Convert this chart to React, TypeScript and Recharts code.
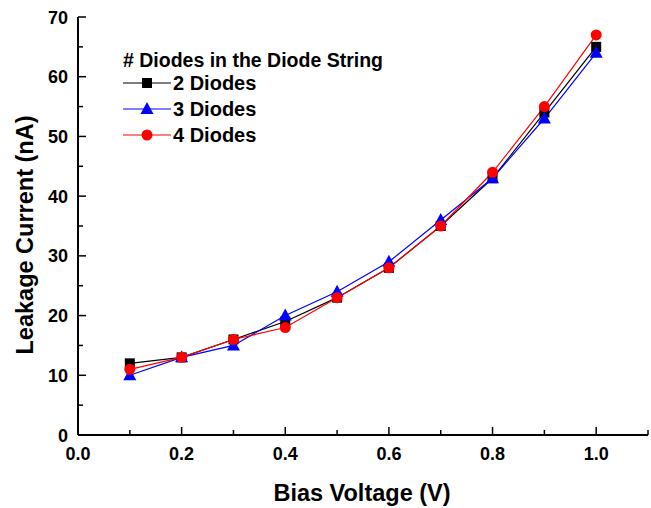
import React from 'react';
import { LineChart, Line, XAxis, YAxis, Legend } from 'recharts';

const voltages = [0.1, 0.2, 0.3, 0.4, 0.5, 0.6, 0.7, 0.8, 0.9, 1.0];
const diodes2 = [12, 13, 16, 19, 23, 28, 35, 43, 54, 65];
const diodes3 = [10, 13, 15, 20, 24, 29, 36, 43, 53, 64];
const diodes4 = [11, 13, 16, 18, 23, 28, 35, 44, 55, 67];
const xTicks = [0, 0.1, 0.2, 0.3, 0.4, 0.5, 0.6, 0.7, 0.8, 0.9, 1.0, 1.1];
const yTicks = [0, 5, 10, 15, 20, 25, 30, 35, 40, 45, 50, 55, 60, 65, 70];
const legendTitle = '# Diodes in the Diode String';
const seriesNames = ['2 Diodes', '3 Diodes', '4 Diodes'];

const data = voltages.map((v, i) => ({ v, d2: diodes2[i], d3: diodes3[i], d4: diodes4[i] }));

const FONT = 'Liberation Sans, Arial, sans-serif';
const colors = ['#000000', '#0000ff', '#ff0000'];

const Square = (props: any) => {
  const { cx, cy } = props;
  if (cx == null || cy == null) return null;
  return <rect x={cx - 5} y={cy - 5} width={10} height={10} fill={colors[0]} />;
};
const Triangle = (props: any) => {
  const { cx, cy } = props;
  if (cx == null || cy == null) return null;
  return <polygon points={`${cx},${cy - 7} ${cx - 6.5},${cy + 5} ${cx + 6.5},${cy + 5}`} fill={colors[1]} />;
};
const Circle = (props: any) => {
  const { cx, cy } = props;
  if (cx == null || cy == null) return null;
  return <circle cx={cx} cy={cy} r={5.5} fill={colors[2]} />;
};

const isMajorX = (v: number) => Math.round(v * 10) % 2 === 0;
const isMajorY = (v: number) => Math.round(v) % 10 === 0;

const XTickBottom = (props: any) => {
  const { x, y, payload } = props;
  const v = payload.value;
  const major = isMajorX(v);
  return (
    <g>
      <line x1={x} x2={x} y1={y} y2={y - (major ? 8 : 5)} stroke="#000" strokeWidth={1.5} />
      {major && v <= 1.0001 && (
        <text x={x} y={y + 25} textAnchor="middle" fontFamily={FONT} fontWeight="bold" fontSize={18} fill="#000">
          {v.toFixed(1)}
        </text>
      )}
    </g>
  );
};
const XTickTop = (props: any) => {
  const { x, y, payload } = props;
  const major = isMajorX(payload.value);
  return <line x1={x} x2={x} y1={y} y2={y + (major ? 8 : 5)} stroke="#000" strokeWidth={1.5} />;
};
const YTickLeft = (props: any) => {
  const { x, y, payload } = props;
  const v = payload.value;
  const major = isMajorY(v);
  return (
    <g>
      <line x1={x} x2={x + (major ? 8 : 5)} y1={y} y2={y} stroke="#000" strokeWidth={1.5} />
      {major && (
        <text x={x - 10} y={y + 6.5} textAnchor="end" fontFamily={FONT} fontWeight="bold" fontSize={18} fill="#000">
          {v}
        </text>
      )}
    </g>
  );
};
const YTickRight = (props: any) => {
  const { x, y, payload } = props;
  const major = isMajorY(payload.value);
  return <line x1={x} x2={x - (major ? 8 : 5)} y1={y} y2={y} stroke="#000" strokeWidth={1.5} />;
};

const markers = [Square, Triangle, Circle];

const LegendContent = () => (
  <svg width={300} height={110} style={{ overflow: 'visible', display: 'block' }}>
    <text x={0} y={27} fontFamily={FONT} fontWeight="bold" fontSize={19.5} fill="#000">
      {legendTitle}
    </text>
    {seriesNames.map((name, i) => {
      const cy = 43 + i * 26;
      const M = markers[i];
      return (
        <g key={name}>
          <line x1={0} x2={48} y1={cy} y2={cy} stroke={colors[i]} strokeWidth={1.2} />
          <M cx={24} cy={cy} />
          <text x={50} y={cy + 7} fontFamily={FONT} fontWeight="bold" fontSize={20} fill="#000">
            {name}
          </text>
        </g>
      );
    })}
  </svg>
);

export default function App() {
  return (
    <div style={{ position: 'absolute', left: 0, top: 0, width: 651, height: 508, background: '#fff' }}>
      <LineChart width={651} height={508} data={data} margin={{ top: 17, right: 3, left: 0, bottom: 0 }}>
        <XAxis
          dataKey="v"
          type="number"
          domain={[0, 1.1]}
          ticks={xTicks}
          interval={0}
          tickSize={0}
          tickMargin={0}
          tick={<XTickBottom />}
          height={73}
          axisLine={{ stroke: '#000', strokeWidth: 2 }}
          tickLine={false}
          label={{
            content: (p: any) => {
              const vb = p.viewBox;
              return (
                <text x={vb.x + vb.width / 2 - 1} y={vb.y + 66} textAnchor="middle" fontFamily={FONT} fontWeight="bold" fontSize={23.5} fill="#000">
                  Bias Voltage (V)
                </text>
              );
            },
          }}
        />
        <XAxis
          xAxisId="top"
          orientation="top"
          dataKey="v"
          type="number"
          domain={[0, 1.1]}
          ticks={xTicks}
          interval={0}
          tickSize={0}
          tickMargin={0}
          tick={<XTickTop />}
          height={0}
          axisLine={{ stroke: '#000', strokeWidth: 2 }}
          tickLine={false}
        />
        <YAxis
          type="number"
          domain={[0, 70]}
          ticks={yTicks}
          interval={0}
          tickSize={0}
          tickMargin={0}
          tick={<YTickLeft />}
          width={78}
          axisLine={{ stroke: '#000', strokeWidth: 2 }}
          tickLine={false}
          label={{
            content: (p: any) => {
              const vb = p.viewBox;
              const cx = vb.x + 33;
              const cy = vb.y + vb.height / 2 + 9;
              return (
                <text x={cx} y={cy} transform={`rotate(-90, ${cx}, ${cy})`} textAnchor="middle" fontFamily={FONT} fontWeight="bold" fontSize={23.5} fill="#000">
                  Leakage Current (nA)
                </text>
              );
            },
          }}
        />
        <YAxis
          yAxisId="right"
          orientation="right"
          type="number"
          domain={[0, 70]}
          ticks={yTicks}
          interval={0}
          tickSize={0}
          tickMargin={0}
          tick={<YTickRight />}
          width={0}
          axisLine={{ stroke: '#000', strokeWidth: 2 }}
          tickLine={false}
        />
        <Legend
          content={<LegendContent />}
          layout="vertical"
          verticalAlign="middle"
          align="center"
          wrapperStyle={{ position: 'absolute', left: 123, top: 40, width: 300, height: 110 }}
        />
        <Line dataKey="d2" name={seriesNames[0]} stroke={colors[0]} strokeWidth={1.2} dot={<Square />} isAnimationActive={false} />
        <Line dataKey="d3" name={seriesNames[1]} stroke={colors[1]} strokeWidth={1.2} dot={<Triangle />} isAnimationActive={false} />
        <Line dataKey="d4" name={seriesNames[2]} stroke={colors[2]} strokeWidth={1.2} dot={<Circle />} isAnimationActive={false} />
      </LineChart>
    </div>
  );
}
